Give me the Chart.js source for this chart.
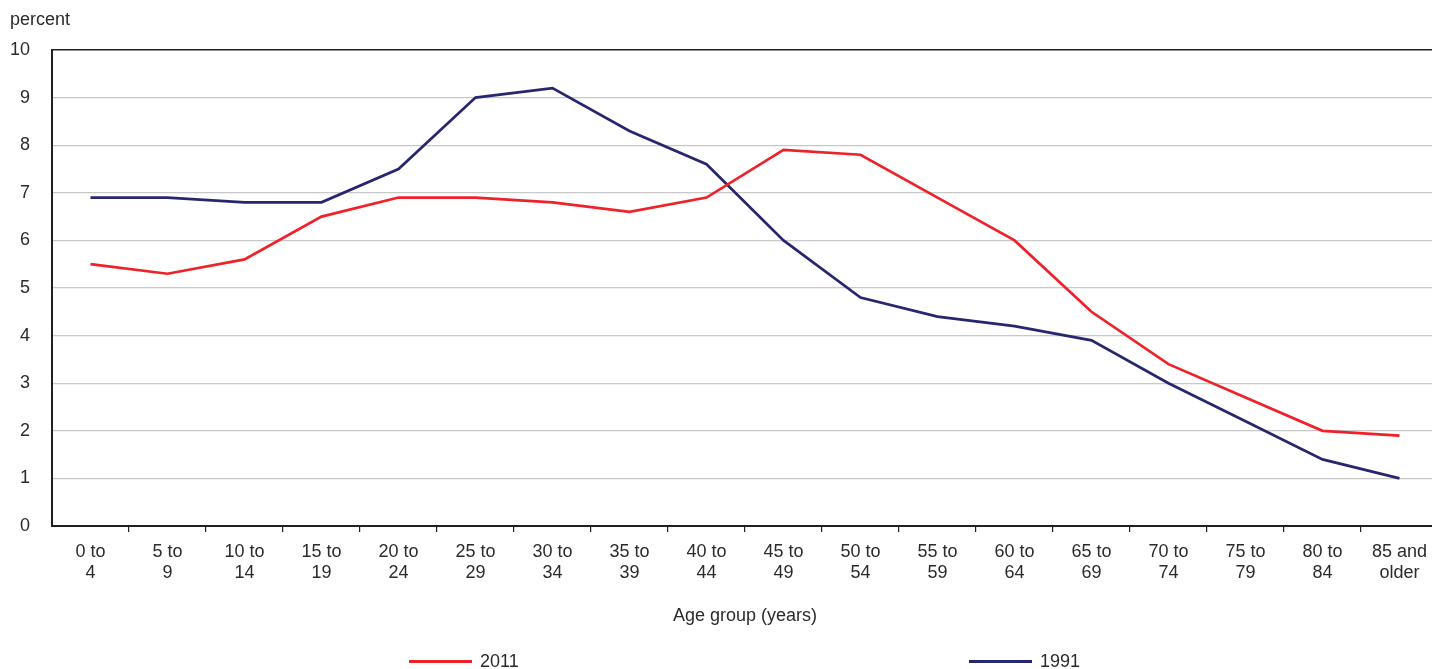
<!DOCTYPE html>
<html>
<head>
<meta charset="utf-8">
<script src="https://cdn.jsdelivr.net/npm/chart.js@4.4.0/dist/chart.umd.min.js"></script>
<style>
  html, body { margin: 0; padding: 0; background: #fff; overflow: hidden; width: 1432px; height: 669px; }
  #wrap { position: relative; width: 1440px; height: 669px; }
  #c { position: absolute; left: 0; top: 0; }
  .lg { position: absolute; top: 650px; height: 22px; display: flex; align-items: center;
        font-family: "Liberation Sans", Arial, sans-serif;
        font-size: 18px; color: #2b2b2b; white-space: nowrap; }
  .lg span.ln { display: inline-block; width: 63px; height: 3px; margin-right: 8px; }
</style>
</head>
<body>
<div id="wrap">
  <canvas id="c" width="1440" height="669"></canvas>
  <div id="legend"></div>
</div>
<script>
const categories = [
  ["0 to","4"],["5 to","9"],["10 to","14"],["15 to","19"],["20 to","24"],["25 to","29"],
  ["30 to","34"],["35 to","39"],["40 to","44"],["45 to","49"],["50 to","54"],["55 to","59"],
  ["60 to","64"],["65 to","69"],["70 to","74"],["75 to","79"],["80 to","84"],["85 and","older"]
];
const series2011 = [5.5,5.3,5.6,6.5,6.9,6.9,6.8,6.6,6.9,7.9,7.8,6.9,6.0,4.5,3.4,2.7,2.0,1.9];
const series1991 = [6.9,6.9,6.8,6.8,7.5,9.0,9.2,8.3,7.6,6.0,4.8,4.4,4.2,3.9,3.0,2.2,1.4,1.0];
const seriesNames = ["2011","1991"];
const seriesColors = ["#ee2229","#27276f"];
const yTicks = [0,1,2,3,4,5,6,7,8,9,10];
const yTitle = "percent";
const xTitle = "Age group (years)";

const FONT = '"Liberation Sans", Arial, sans-serif';
const TXT = '#2b2b2b';

const chart = new Chart(document.getElementById('c'), {
  type: 'line',
  data: {
    labels: categories,
    datasets: [
      { label: seriesNames[0], data: series2011, borderColor: seriesColors[0], backgroundColor: seriesColors[0],
        borderWidth: 2.7, pointRadius: 0, tension: 0, fill: false },
      { label: seriesNames[1], data: series1991, borderColor: seriesColors[1], backgroundColor: seriesColors[1],
        borderWidth: 2.7, pointRadius: 0, tension: 0, fill: false }
    ]
  },
  options: {
    responsive: false,
    animation: false,
    layout: { padding: { left: 10, right: 2, top: 0, bottom: 42 } },
    plugins: {
      legend: { display: false },
      tooltip: { enabled: false },
      title: {
        display: true, text: yTitle, align: 'start', color: TXT,
        font: { family: FONT, size: 18, weight: 'normal', lineHeight: 1.1667 },
        padding: { top: 10, bottom: 19 }
      }
    },
    scales: {
      x: {
        type: 'category',
        offset: true,
        grid: { display: true, drawOnChartArea: false, drawTicks: true, tickLength: 6, offset: true,
                color: (ctx) => ctx.index === 0 ? 'rgba(0,0,0,0)' : '#231f20', lineWidth: 1.2 },
        border: { display: true, color: '#231f20', width: 2 },
        ticks: { color: TXT, font: { family: FONT, size: 18, lineHeight: 1.1667 }, padding: 10,
                 maxRotation: 0, autoSkip: false },
        title: { display: true, text: xTitle, color: TXT,
                 font: { family: FONT, size: 18, lineHeight: 1.1667 }, padding: { top: 12, bottom: 0 } }
      },
      y: {
        min: 0, max: 10,
        afterBuildTicks: (s) => { s.ticks = yTicks.map(v => ({ value: v })); },
        afterFit: (s) => { s.width = 42; },
        grid: { drawTicks: false,
                color: (ctx) => (ctx.tick && ctx.tick.value === 10) ? '#231f20' : '#c8c8c8',
                lineWidth: (ctx) => (ctx.tick && ctx.tick.value === 10) ? 1.5 : 1.2 },
        border: { display: true, color: '#231f20', width: 2 },
        ticks: { color: TXT, font: { family: FONT, size: 18 }, padding: 22 }
      }
    }
  }
});

// HTML legend built from the datasets
const legendPos = [409, 969];
const lg = document.getElementById('legend');
chart.data.datasets.forEach((ds, i) => {
  const d = document.createElement('div');
  d.className = 'lg';
  d.style.left = legendPos[i] + 'px';
  const ln = document.createElement('span');
  ln.className = 'ln';
  ln.style.background = ds.borderColor;
  d.appendChild(ln);
  d.appendChild(document.createTextNode(ds.label));
  lg.appendChild(d);
});
</script>
</body>
</html>
